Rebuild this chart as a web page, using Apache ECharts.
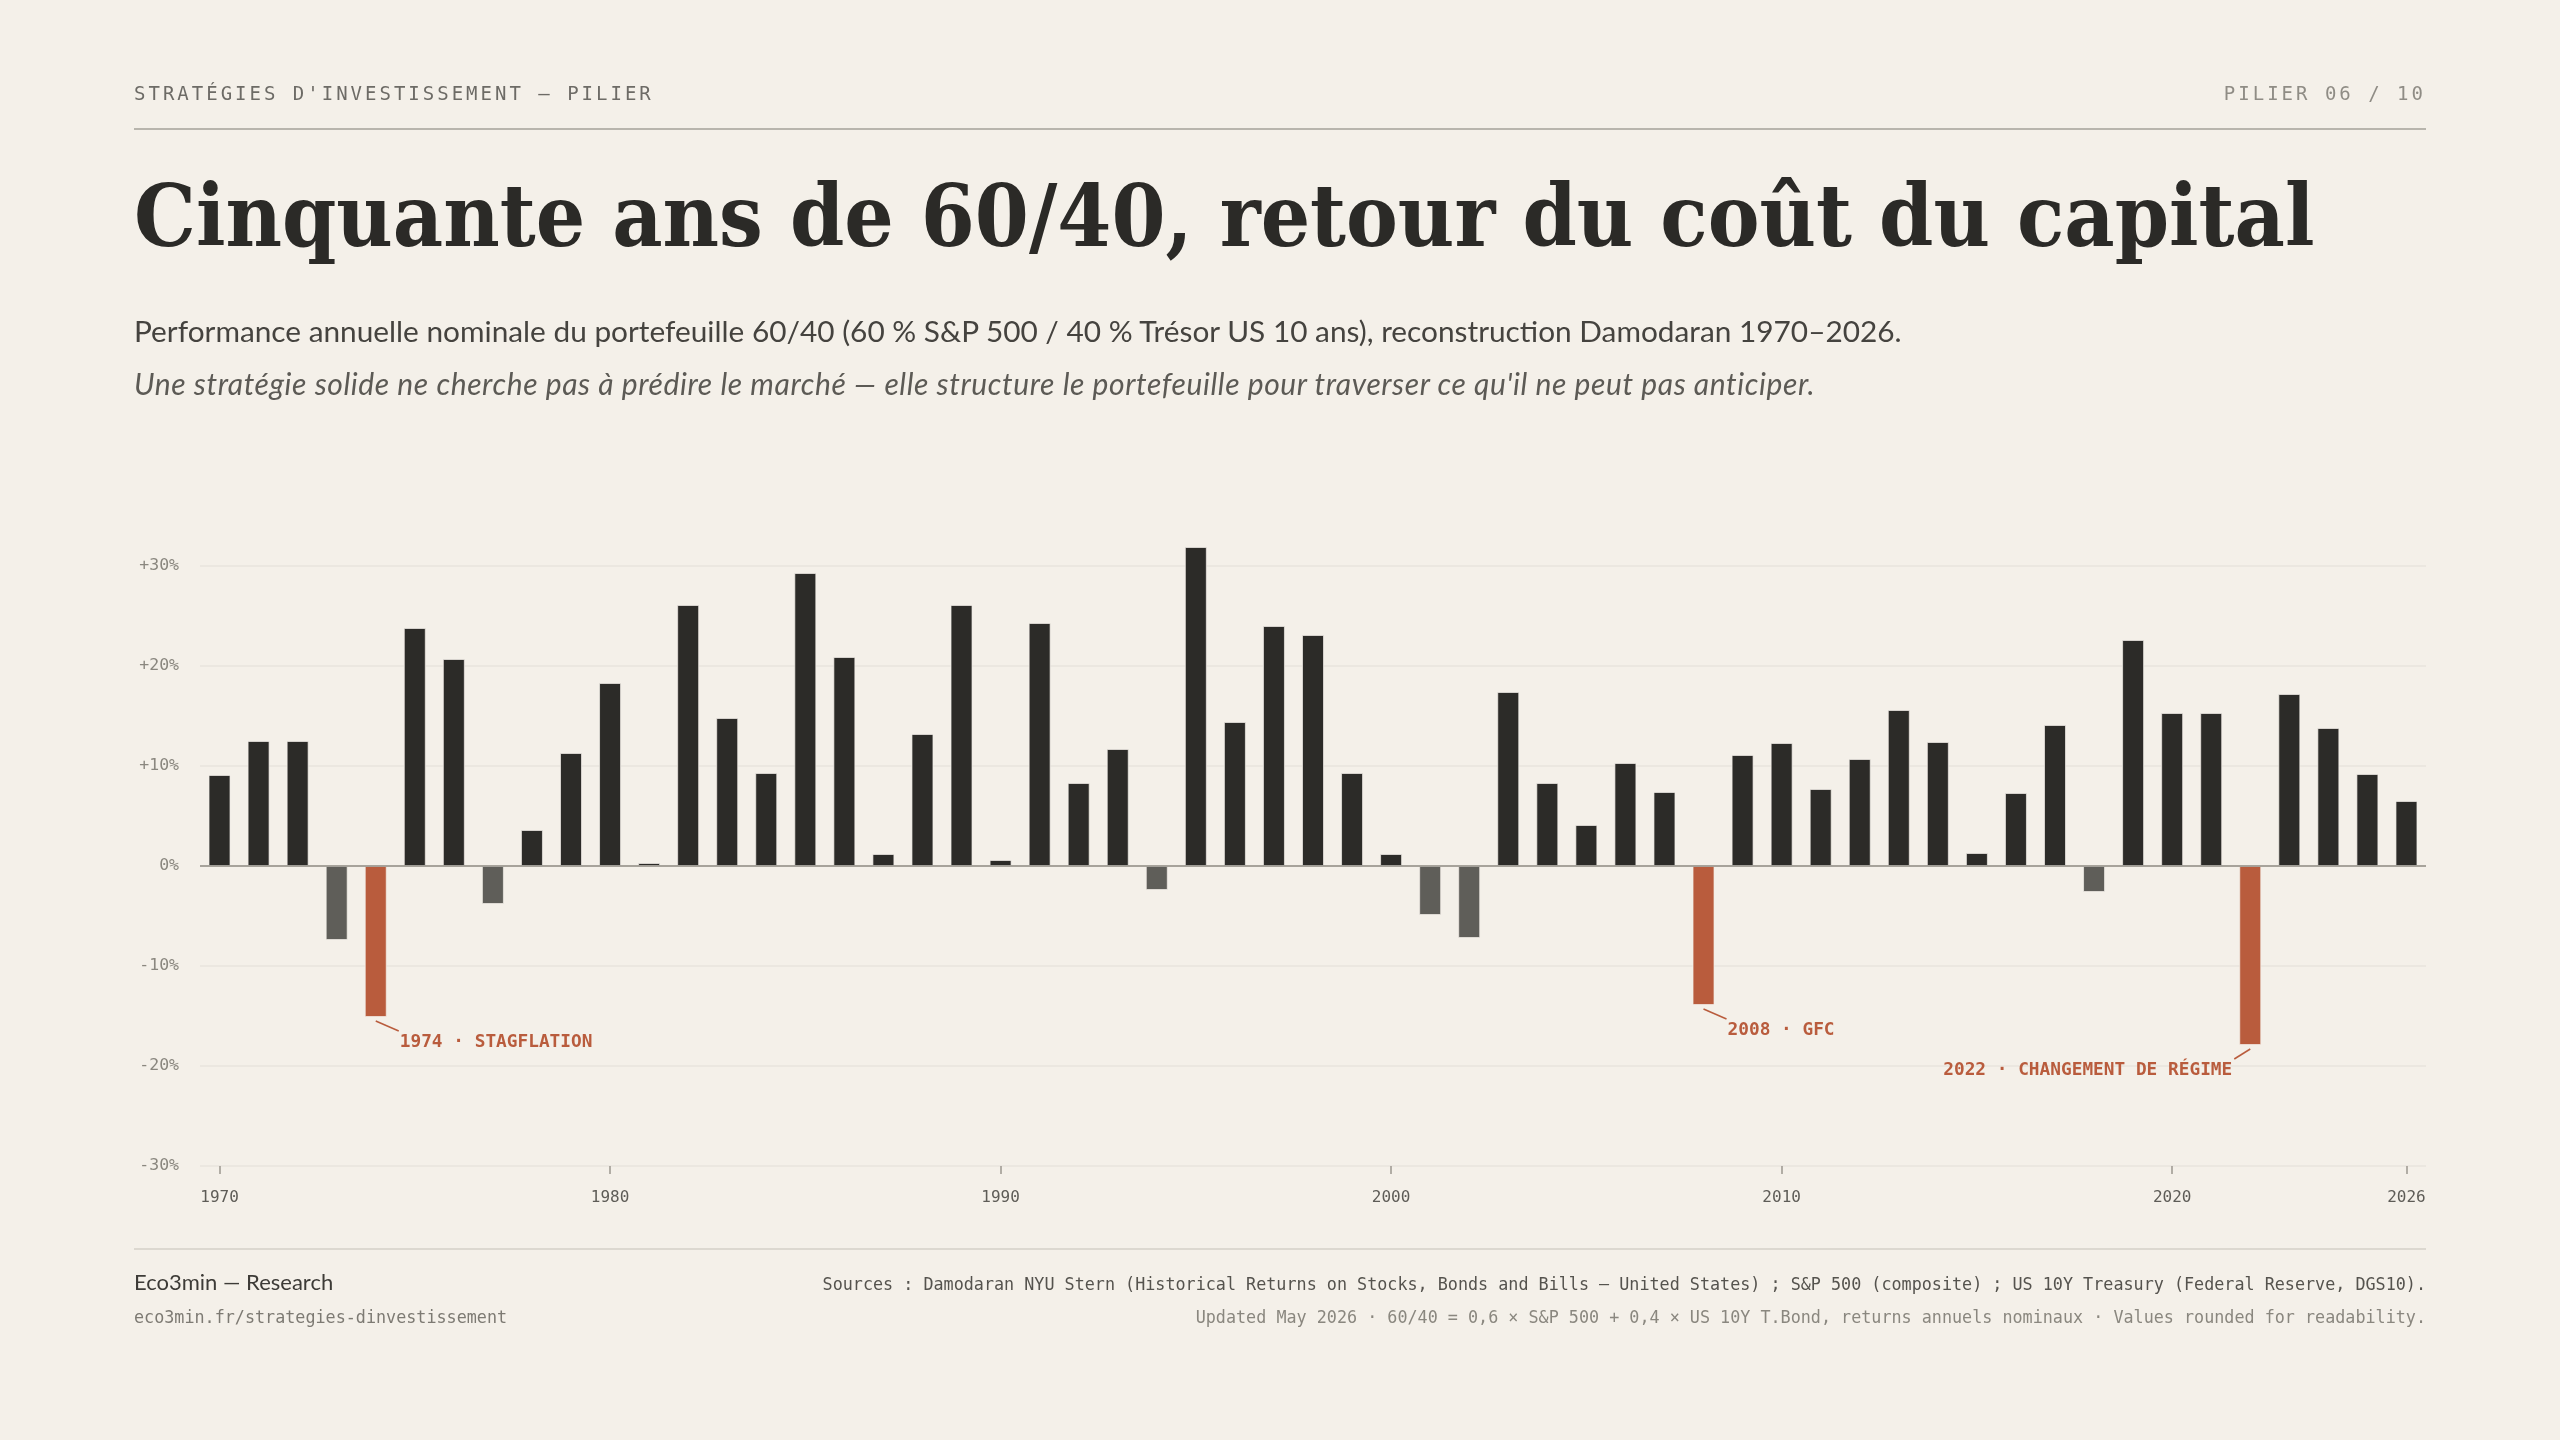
<!DOCTYPE html>
<html lang="fr">
<head>
<meta charset="utf-8">
<title>Cinquante ans de 60/40</title>
<script src="https://cdn.jsdelivr.net/npm/echarts@6/dist/echarts.min.js"></script>
<style>
  html, body { margin: 0; padding: 0; background: #f4f0e9; }
  body { width: 2560px; height: 1440px; position: relative; overflow: hidden; }
  #chart { position: absolute; left: 0; top: 0; width: 2560px; height: 1440px; }
  .t { position: absolute; white-space: nowrap; line-height: 1; z-index: 2; }
  .mono { font-family: "DejaVu Sans Mono", monospace; }
  .kicker { left: 134px; top: 84px; font-size: 19px; letter-spacing: 3px; color: #6d6b66; }
  .pager { right: 134px; top: 84px; font-size: 19px; letter-spacing: 3px; color: #8f8c85; }
  .rule { position: absolute; left: 134px; width: 2292px; height: 2px; background: #b8b5ad; z-index: 2; }
  .title { left: 134px; top: 173px; font-family: "DejaVu Serif", Georgia, serif; font-weight: bold; font-size: 86px; color: #2b2a27; transform: scaleX(0.904); transform-origin: left top; }
  .sub { left: 134px; top: 316px; font-family: Lato, "Open Sans", sans-serif; font-size: 29.8px; color: #45433f; }
  .lede { left: 134px; top: 368px; font-family: Lato, "Open Sans", sans-serif; font-style: italic; font-size: 30px; letter-spacing: 0.6px; color: #5c5a55; }
  .brand { left: 134px; top: 1271px; font-family: Lato, "Open Sans", sans-serif; font-size: 22px; color: #3d3b37; }
  .url { left: 134px; top: 1309px; font-size: 16.75px; color: #7d7a73; }
  .src { right: 134px; top: 1276px; font-size: 16.75px; color: #55534e; }
  .upd { right: 134px; top: 1309px; font-size: 16.75px; color: #8a877f; }
</style>
</head>
<body>
<div class="t mono kicker">STRATÉGIES D'INVESTISSEMENT — PILIER</div>
<div class="t mono pager">PILIER 06 / 10</div>
<div class="rule" style="top:128px"></div>
<div class="t title">Cinquante ans de 60/40, retour du coût du capital</div>
<div class="t sub">Performance annuelle nominale du portefeuille 60/40 (60 % S&amp;P 500 / 40 % Trésor US 10 ans), reconstruction Damodaran 1970–2026.</div>
<div class="t lede">Une stratégie solide ne cherche pas à prédire le marché — elle structure le portefeuille pour traverser ce qu'il ne peut pas anticiper.</div>
<div class="rule" style="top:1248px;background:#dcd8d0"></div>
<div class="t brand">Eco3min — Research</div>
<div class="t mono url">eco3min.fr/strategies-dinvestissement</div>
<div class="t mono src">Sources : Damodaran NYU Stern (Historical Returns on Stocks, Bonds and Bills — United States) ; S&amp;P 500 (composite) ; US 10Y Treasury (Federal Reserve, DGS10).</div>
<div class="t mono upd">Updated May 2026 · 60/40 = 0,6 × S&amp;P 500 + 0,4 × US 10Y T.Bond, returns annuels nominaux · Values rounded for readability.</div>
<div id="chart"></div>
<script>
// annual nominal return of the 60/40 portfolio, %
const years = [
  "1970", "1971", "1972", "1973", "1974", "1975", "1976", "1977", "1978", "1979",
  "1980", "1981", "1982", "1983", "1984", "1985", "1986", "1987", "1988", "1989",
  "1990", "1991", "1992", "1993", "1994", "1995", "1996", "1997", "1998", "1999",
  "2000", "2001", "2002", "2003", "2004", "2005", "2006", "2007", "2008", "2009",
  "2010", "2011", "2012", "2013", "2014", "2015", "2016", "2017", "2018", "2019",
  "2020", "2021", "2022", "2023", "2024", "2025", "2026",
];
const returns = [
  9.1, 12.5, 12.5, -7.4, -15.1, 23.8, 20.7, -3.8, 3.6, 11.3,
  18.3, 0.3, 26.1, 14.8, 9.3, 29.3, 20.9, 1.2, 13.2, 26.1,
  0.6, 24.3, 8.3, 11.7, -2.4, 31.9, 14.4, 24.0, 23.1, 9.3,
  1.2, -4.9, -7.2, 17.4, 8.3, 4.1, 10.3, 7.4, -13.9, 11.1,
  12.3, 7.7, 10.7, 15.6, 12.4, 1.3, 7.3, 14.1, -2.6, 22.6,
  15.3, 15.3, -17.9, 17.2, 13.8, 9.2, 6.5,
];
const tickYears = ["1970", "1980", "1990", "2000", "2010", "2020", "2026"];
const yTicks = [-30, -20, -10, 0, 10, 20, 30];

// crisis years get a callout
const crisisYears = ["1974", "2008", "2022"];
const crisisLabels = ["1974 · STAGFLATION", "2008 · GFC", "2022 · CHANGEMENT DE RÉGIME"];
const crisisSide = [1, 1, -1];

const INK = "#2c2b28";
const GREY = "#5f5e59";
const RUST = "#b95c3d";
const MONO = "DejaVu Sans Mono, monospace";

const chart = echarts.init(document.getElementById("chart"), null, { renderer: "canvas" });

const barData = returns.map((v, i) => ({
  value: v,
  itemStyle: {
    color: crisisYears.includes(years[i]) ? RUST : (v < 0 ? GREY : INK),
  },
}));

const showTick = (i, name) => tickYears.includes(name);

chart.setOption({
  animation: false,
  backgroundColor: "transparent",
  grid: { left: 200, right: 134, top: 566, bottom: 274, containLabel: false },
  xAxis: {
    type: "category",
    data: years,
    boundaryGap: true,
    axisLine: { show: false, onZero: false },
    axisTick: {
      show: true,
      alignWithLabel: true,
      interval: showTick,
      length: 8,
      lineStyle: { color: "#9a978f", width: 1.5 },
    },
    axisLabel: {
      interval: showTick,
      margin: 24,
      fontFamily: MONO,
      fontSize: 16,
      color: "#5e5c57",
    },
    splitLine: { show: false },
  },
  yAxis: {
    type: "value",
    min: yTicks[0],
    max: yTicks[yTicks.length - 1],
    interval: 10,
    axisLine: { show: false },
    axisTick: { show: false },
    axisLabel: {
      margin: 21,
      fontFamily: MONO,
      fontSize: 16.5,
      color: "#8a877f",
      formatter: (v) => (v > 0 ? "+" + v + "%" : v + "%"),
    },
    splitLine: { lineStyle: { color: "#e9e4dc", width: 1.5 } },
  },
  series: [
    {
      type: "bar",
      data: barData,
      clip: false,
      barWidth: 22,
      itemStyle: { borderColor: "rgba(244,240,233,0.7)", borderWidth: 1 },
      markLine: {
        silent: true,
        symbol: "none",
        label: { show: false },
        lineStyle: { color: "#8f8c84", width: 1.5, type: "solid" },
        data: [{ yAxis: 0 }],
      },
    },
  ],
});

// callouts under the crisis bars
const callouts = [];
crisisYears.forEach((y, k) => {
  const idx = years.indexOf(y);
  const p = chart.convertToPixel({ xAxisIndex: 0, yAxisIndex: 0 }, [idx, returns[idx]]);
  const dir = crisisSide[k];
  callouts.push({
    type: "line",
    silent: true,
    shape: { x1: p[0], y1: p[1] + 4, x2: p[0] + dir * (dir > 0 ? 23 : 16), y2: p[1] + 14 },
    style: { stroke: RUST, lineWidth: 1.5 },
  });
  callouts.push({
    type: "text",
    silent: true,
    x: p[0] + dir * (dir > 0 ? 24 : 18),
    y: p[1] + 25,
    style: {
      text: crisisLabels[k],
      fill: RUST,
      font: "bold 17.8px " + MONO,
      align: dir > 0 ? "left" : "right",
      verticalAlign: "middle",
    },
  });
});
chart.setOption({ graphic: callouts });

window.addEventListener("resize", () => chart.resize());
</script>
</body>
</html>
